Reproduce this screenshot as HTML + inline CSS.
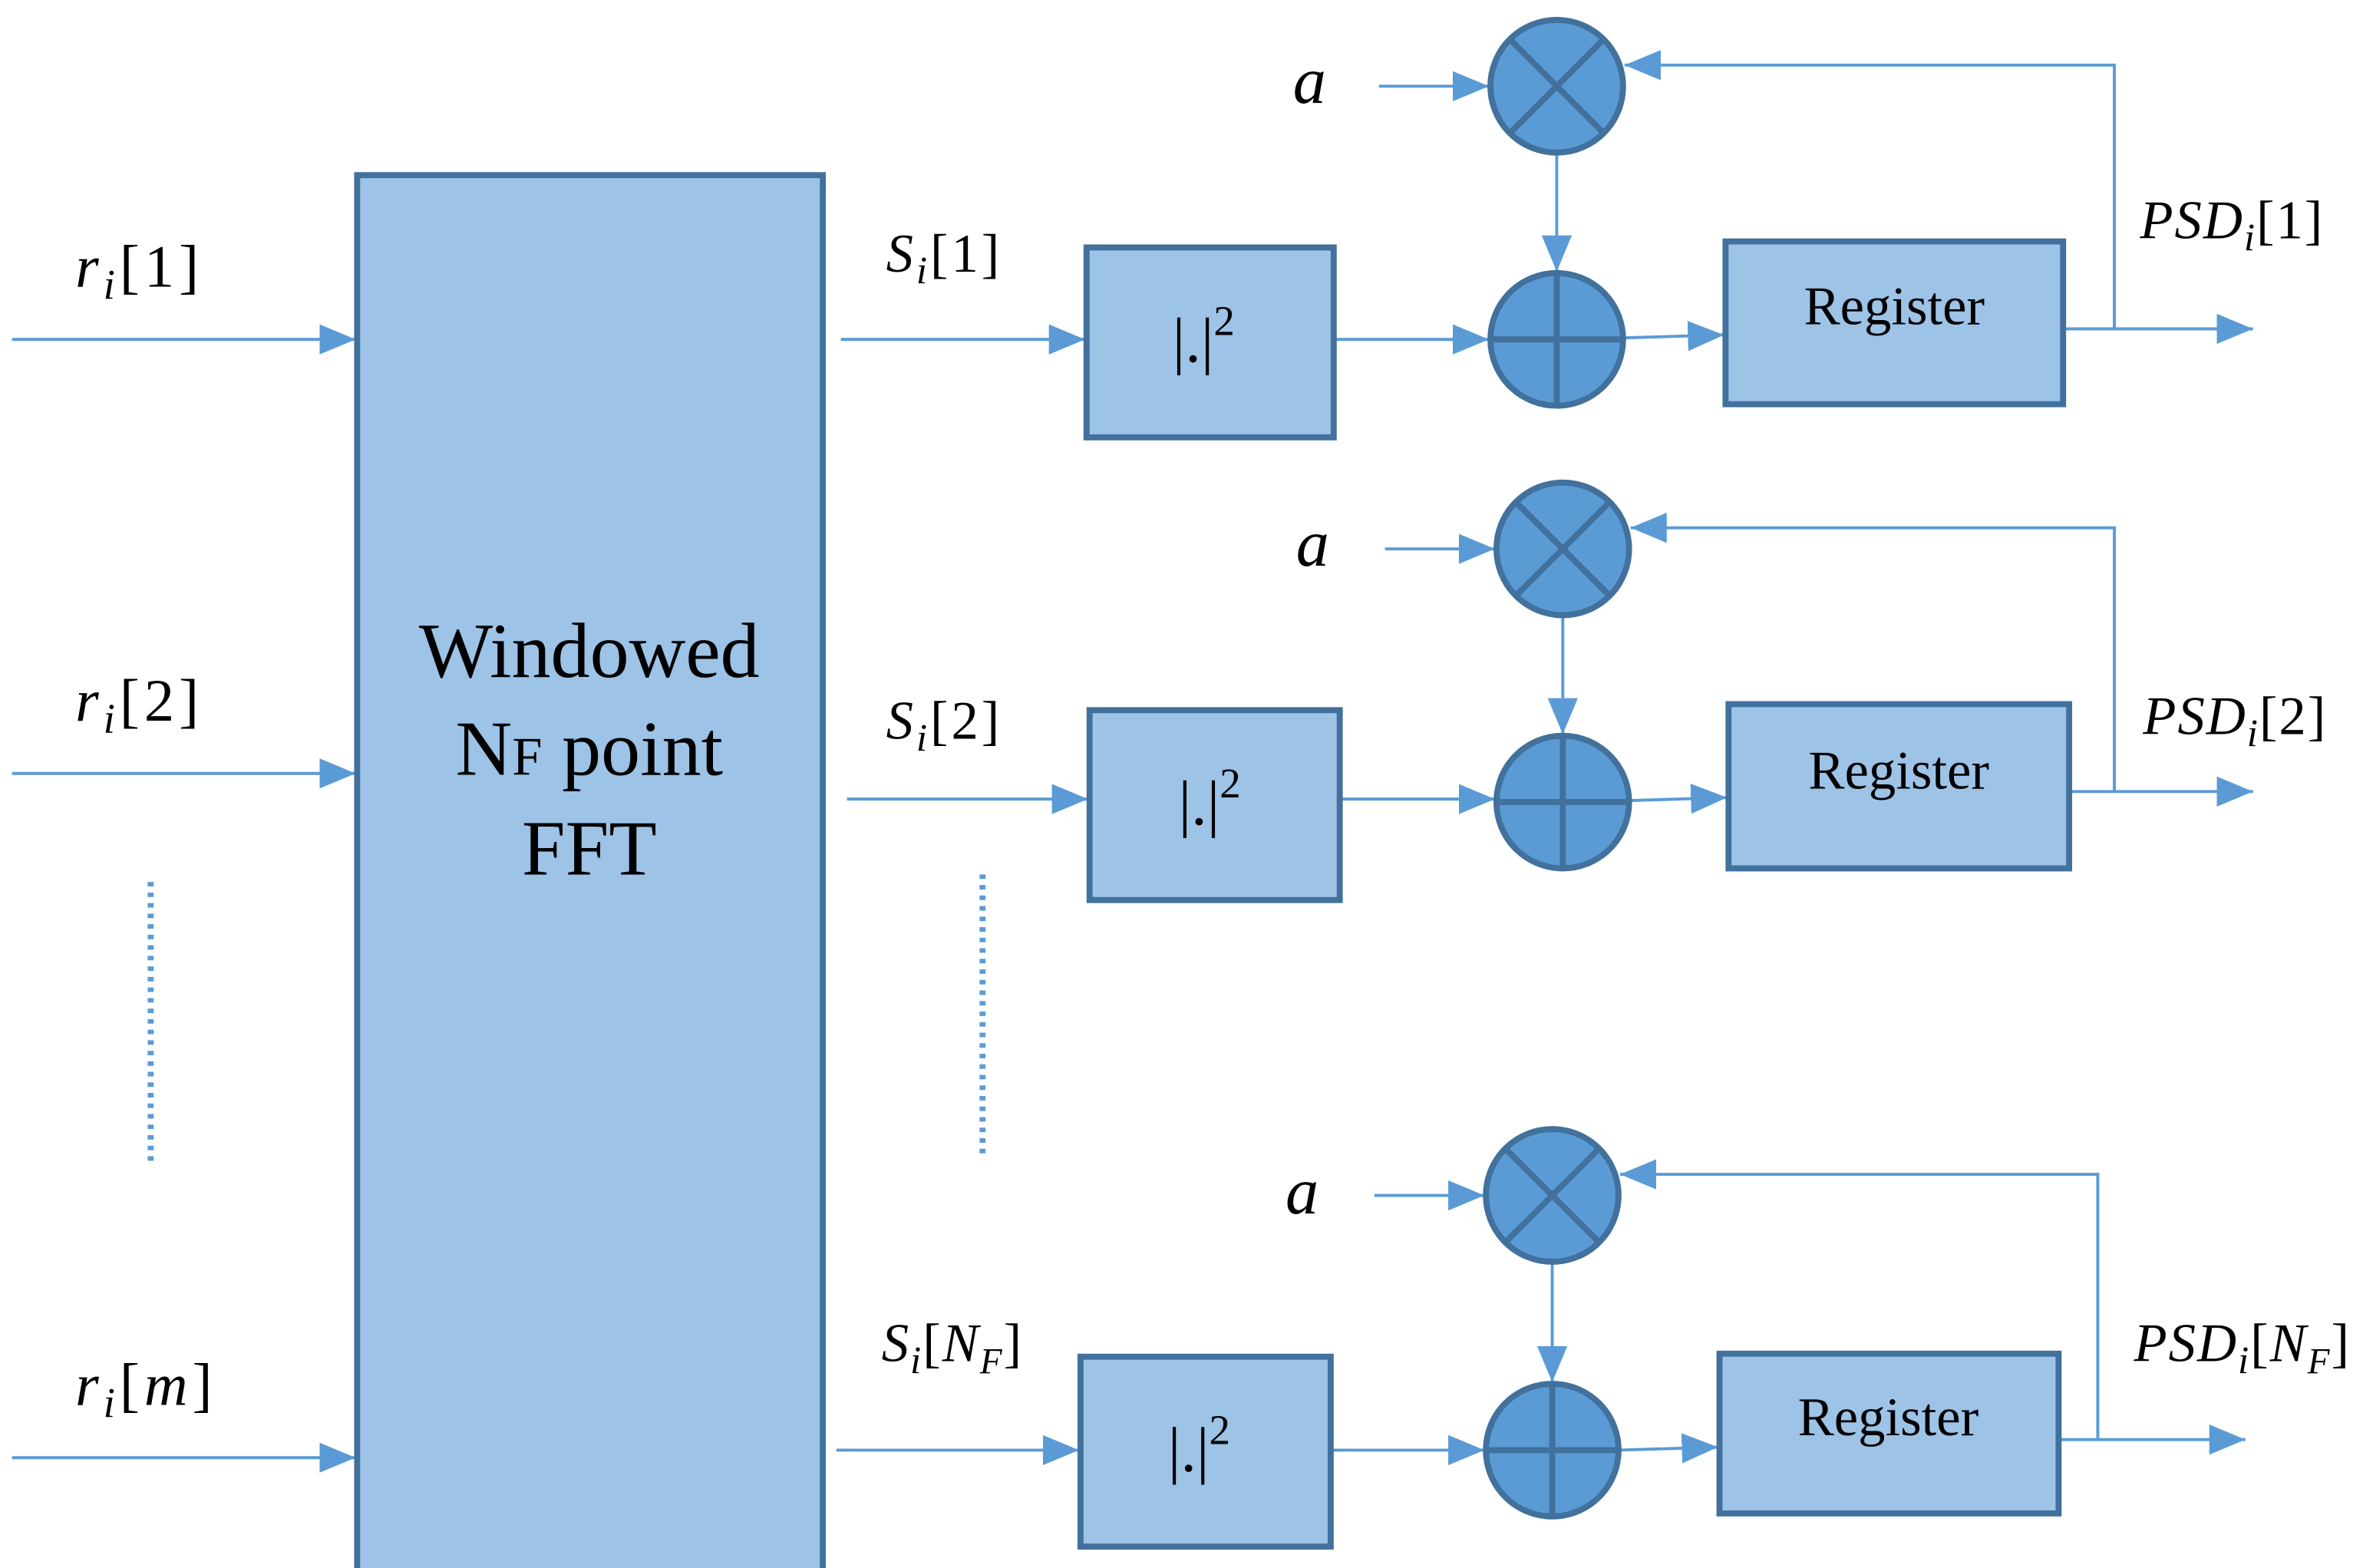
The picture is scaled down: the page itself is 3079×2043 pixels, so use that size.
<!DOCTYPE html>
<html><head><meta charset="utf-8"><style>
html,body{margin:0;padding:0;background:#fff;}
svg{display:block;}
.t{font-family:"Liberation Serif",serif;}
.i{font-family:"Liberation Serif",serif;font-style:italic;}
</style></head><body>
<svg width="3079" height="2043" viewBox="0 0 1568 1040" xmlns="http://www.w3.org/2000/svg">
<defs>
<marker id="a" viewBox="0 0 24 20" refX="24" refY="10" markerWidth="24" markerHeight="20" markerUnits="userSpaceOnUse" orient="auto"><path d="M0,0 L24,10 L0,20 z" fill="#5b9bd5"/></marker>
</defs>
<g stroke="#5b9bd5" stroke-width="2" fill="none">
<line x1="8" y1="225" x2="236" y2="225" marker-end="url(#a)"/>
<line x1="8" y1="513" x2="236" y2="513" marker-end="url(#a)"/>
<line x1="8" y1="967" x2="236" y2="967" marker-end="url(#a)"/>
<line x1="100" y1="585" x2="100" y2="770" stroke-width="4" stroke-dasharray="3,4"/>
<line x1="652" y1="580" x2="652" y2="765" stroke-width="4" stroke-dasharray="3,4"/>
</g>
<rect x="237" y="116" width="309" height="940" fill="#9dc3e6" stroke="#41719c" stroke-width="4"/>
<text class="t" x="391" y="449" font-size="52" text-anchor="middle">Windowed</text>
<text class="t" x="391" y="514" font-size="52" text-anchor="middle">N<tspan font-size="36">F</tspan> point</text>
<text class="t" x="391" y="580" font-size="52" text-anchor="middle">FFT</text>
<text class="i" x="50" y="190" font-size="40" letter-spacing="3">r<tspan font-size="28" dy="8">i</tspan><tspan dy="-8" font-style="normal">[1]</tspan></text>
<text class="i" x="50" y="478" font-size="40" letter-spacing="3">r<tspan font-size="28" dy="8">i</tspan><tspan dy="-8" font-style="normal">[2]</tspan></text>
<text class="i" x="50" y="932" font-size="40" letter-spacing="3">r<tspan font-size="28" dy="8">i</tspan><tspan dy="-8" font-style="normal">[</tspan>m<tspan font-style="normal">]</tspan></text>

<!-- ROW 1 -->
<g stroke="#5b9bd5" stroke-width="2" fill="none">
<line x1="558" y1="225" x2="720" y2="225" marker-end="url(#a)"/>
<line x1="885" y1="225" x2="988" y2="225" marker-end="url(#a)"/>
<line x1="1077" y1="224" x2="1144" y2="222" marker-end="url(#a)"/>
<line x1="1369" y1="218" x2="1495" y2="218" marker-end="url(#a)"/>
<polyline points="1403,218 1403,43 1078,43" marker-end="url(#a)"/>
<line x1="915" y1="57" x2="988" y2="57" marker-end="url(#a)"/>
<line x1="1033" y1="101" x2="1033" y2="180" marker-end="url(#a)"/>
</g>
<rect x="721" y="164" width="164" height="126" fill="#9dc3e6" stroke="#41719c" stroke-width="4"/>
<rect x="1145" y="160" width="224" height="108" fill="#9dc3e6" stroke="#41719c" stroke-width="4"/>
<text class="t" x="1257" y="215" font-size="36" text-anchor="middle">Register</text>
<text class="t" x="778" y="240" font-size="42">|.|<tspan font-size="28" dy="-18">2</tspan></text>
<g fill="#5b9bd5" stroke="#41719c" stroke-width="4">
<circle cx="1033" cy="57" r="44"/><circle cx="1033" cy="225" r="44"/>
<path d="M1002,26 L1064,88 M1064,26 L1002,88 M989,225 L1077,225 M1033,181 L1033,269"/>
</g>
<text class="i" x="858" y="68" font-size="44">a</text>
<text class="i" x="588" y="180" font-size="36" letter-spacing="2">S<tspan font-size="26" dy="8">i</tspan><tspan dy="-8" font-style="normal">[1]</tspan></text>
<text class="i" x="1420" y="158" font-size="36" letter-spacing="1">PSD<tspan font-size="26" dy="8">i</tspan><tspan dy="-8" font-style="normal">[1]</tspan></text>

<!-- ROW 2 -->
<g stroke="#5b9bd5" stroke-width="2" fill="none">
<line x1="562" y1="530" x2="722" y2="530" marker-end="url(#a)"/>
<line x1="889" y1="530" x2="992" y2="530" marker-end="url(#a)"/>
<line x1="1081" y1="531" x2="1146" y2="529" marker-end="url(#a)"/>
<line x1="1373" y1="525" x2="1495" y2="525" marker-end="url(#a)"/>
<polyline points="1403,525 1403,350 1082,350" marker-end="url(#a)"/>
<line x1="919" y1="364" x2="992" y2="364" marker-end="url(#a)"/>
<line x1="1037" y1="408" x2="1037" y2="487" marker-end="url(#a)"/>
</g>
<rect x="723" y="471" width="166" height="126" fill="#9dc3e6" stroke="#41719c" stroke-width="4"/>
<rect x="1147" y="467" width="226" height="109" fill="#9dc3e6" stroke="#41719c" stroke-width="4"/>
<text class="t" x="1260" y="523" font-size="36" text-anchor="middle">Register</text>
<text class="t" x="782" y="547" font-size="42">|.|<tspan font-size="28" dy="-18">2</tspan></text>
<g fill="#5b9bd5" stroke="#41719c" stroke-width="4">
<circle cx="1037" cy="364" r="44"/><circle cx="1037" cy="532" r="44"/>
<path d="M1006,333 L1068,395 M1068,333 L1006,395 M993,532 L1081,532 M1037,488 L1037,576"/>
</g>
<text class="i" x="860" y="375" font-size="44">a</text>
<text class="i" x="588" y="490" font-size="36" letter-spacing="2">S<tspan font-size="26" dy="8">i</tspan><tspan dy="-8" font-style="normal">[2]</tspan></text>
<text class="i" x="1422" y="487" font-size="36" letter-spacing="1">PSD<tspan font-size="26" dy="8">i</tspan><tspan dy="-8" font-style="normal">[2]</tspan></text>

<!-- ROW 3 -->
<g stroke="#5b9bd5" stroke-width="2" fill="none">
<line x1="555" y1="962" x2="716" y2="962" marker-end="url(#a)"/>
<line x1="883" y1="962" x2="985" y2="962" marker-end="url(#a)"/>
<line x1="1074" y1="962" x2="1140" y2="960" marker-end="url(#a)"/>
<line x1="1366" y1="955" x2="1490" y2="955" marker-end="url(#a)"/>
<polyline points="1392,955 1392,779 1075,779" marker-end="url(#a)"/>
<line x1="912" y1="793" x2="985" y2="793" marker-end="url(#a)"/>
<line x1="1030" y1="837" x2="1030" y2="917" marker-end="url(#a)"/>
</g>
<rect x="717" y="900" width="166" height="126" fill="#9dc3e6" stroke="#41719c" stroke-width="4"/>
<rect x="1141" y="898" width="225" height="106" fill="#9dc3e6" stroke="#41719c" stroke-width="4"/>
<text class="t" x="1253" y="952" font-size="36" text-anchor="middle">Register</text>
<text class="t" x="775" y="976" font-size="42">|.|<tspan font-size="28" dy="-18">2</tspan></text>
<g fill="#5b9bd5" stroke="#41719c" stroke-width="4">
<circle cx="1030" cy="793" r="44"/><circle cx="1030" cy="962" r="44"/>
<path d="M999,762 L1061,824 M1061,762 L999,824 M986,962 L1074,962 M1030,918 L1030,1006"/>
</g>
<text class="i" x="853" y="805" font-size="44">a</text>
<text class="i" x="585" y="903" font-size="36" letter-spacing="1">S<tspan font-size="26" dy="8">i</tspan><tspan dy="-8" font-style="normal">[</tspan>N<tspan font-size="24" dy="8">F</tspan><tspan dy="-8" font-style="normal">]</tspan></text>
<text class="i" x="1416" y="903" font-size="36" letter-spacing="1">PSD<tspan font-size="26" dy="8">i</tspan><tspan dy="-8" font-style="normal">[</tspan>N<tspan font-size="24" dy="8">F</tspan><tspan dy="-8" font-style="normal">]</tspan></text>
</svg>
</body></html>
